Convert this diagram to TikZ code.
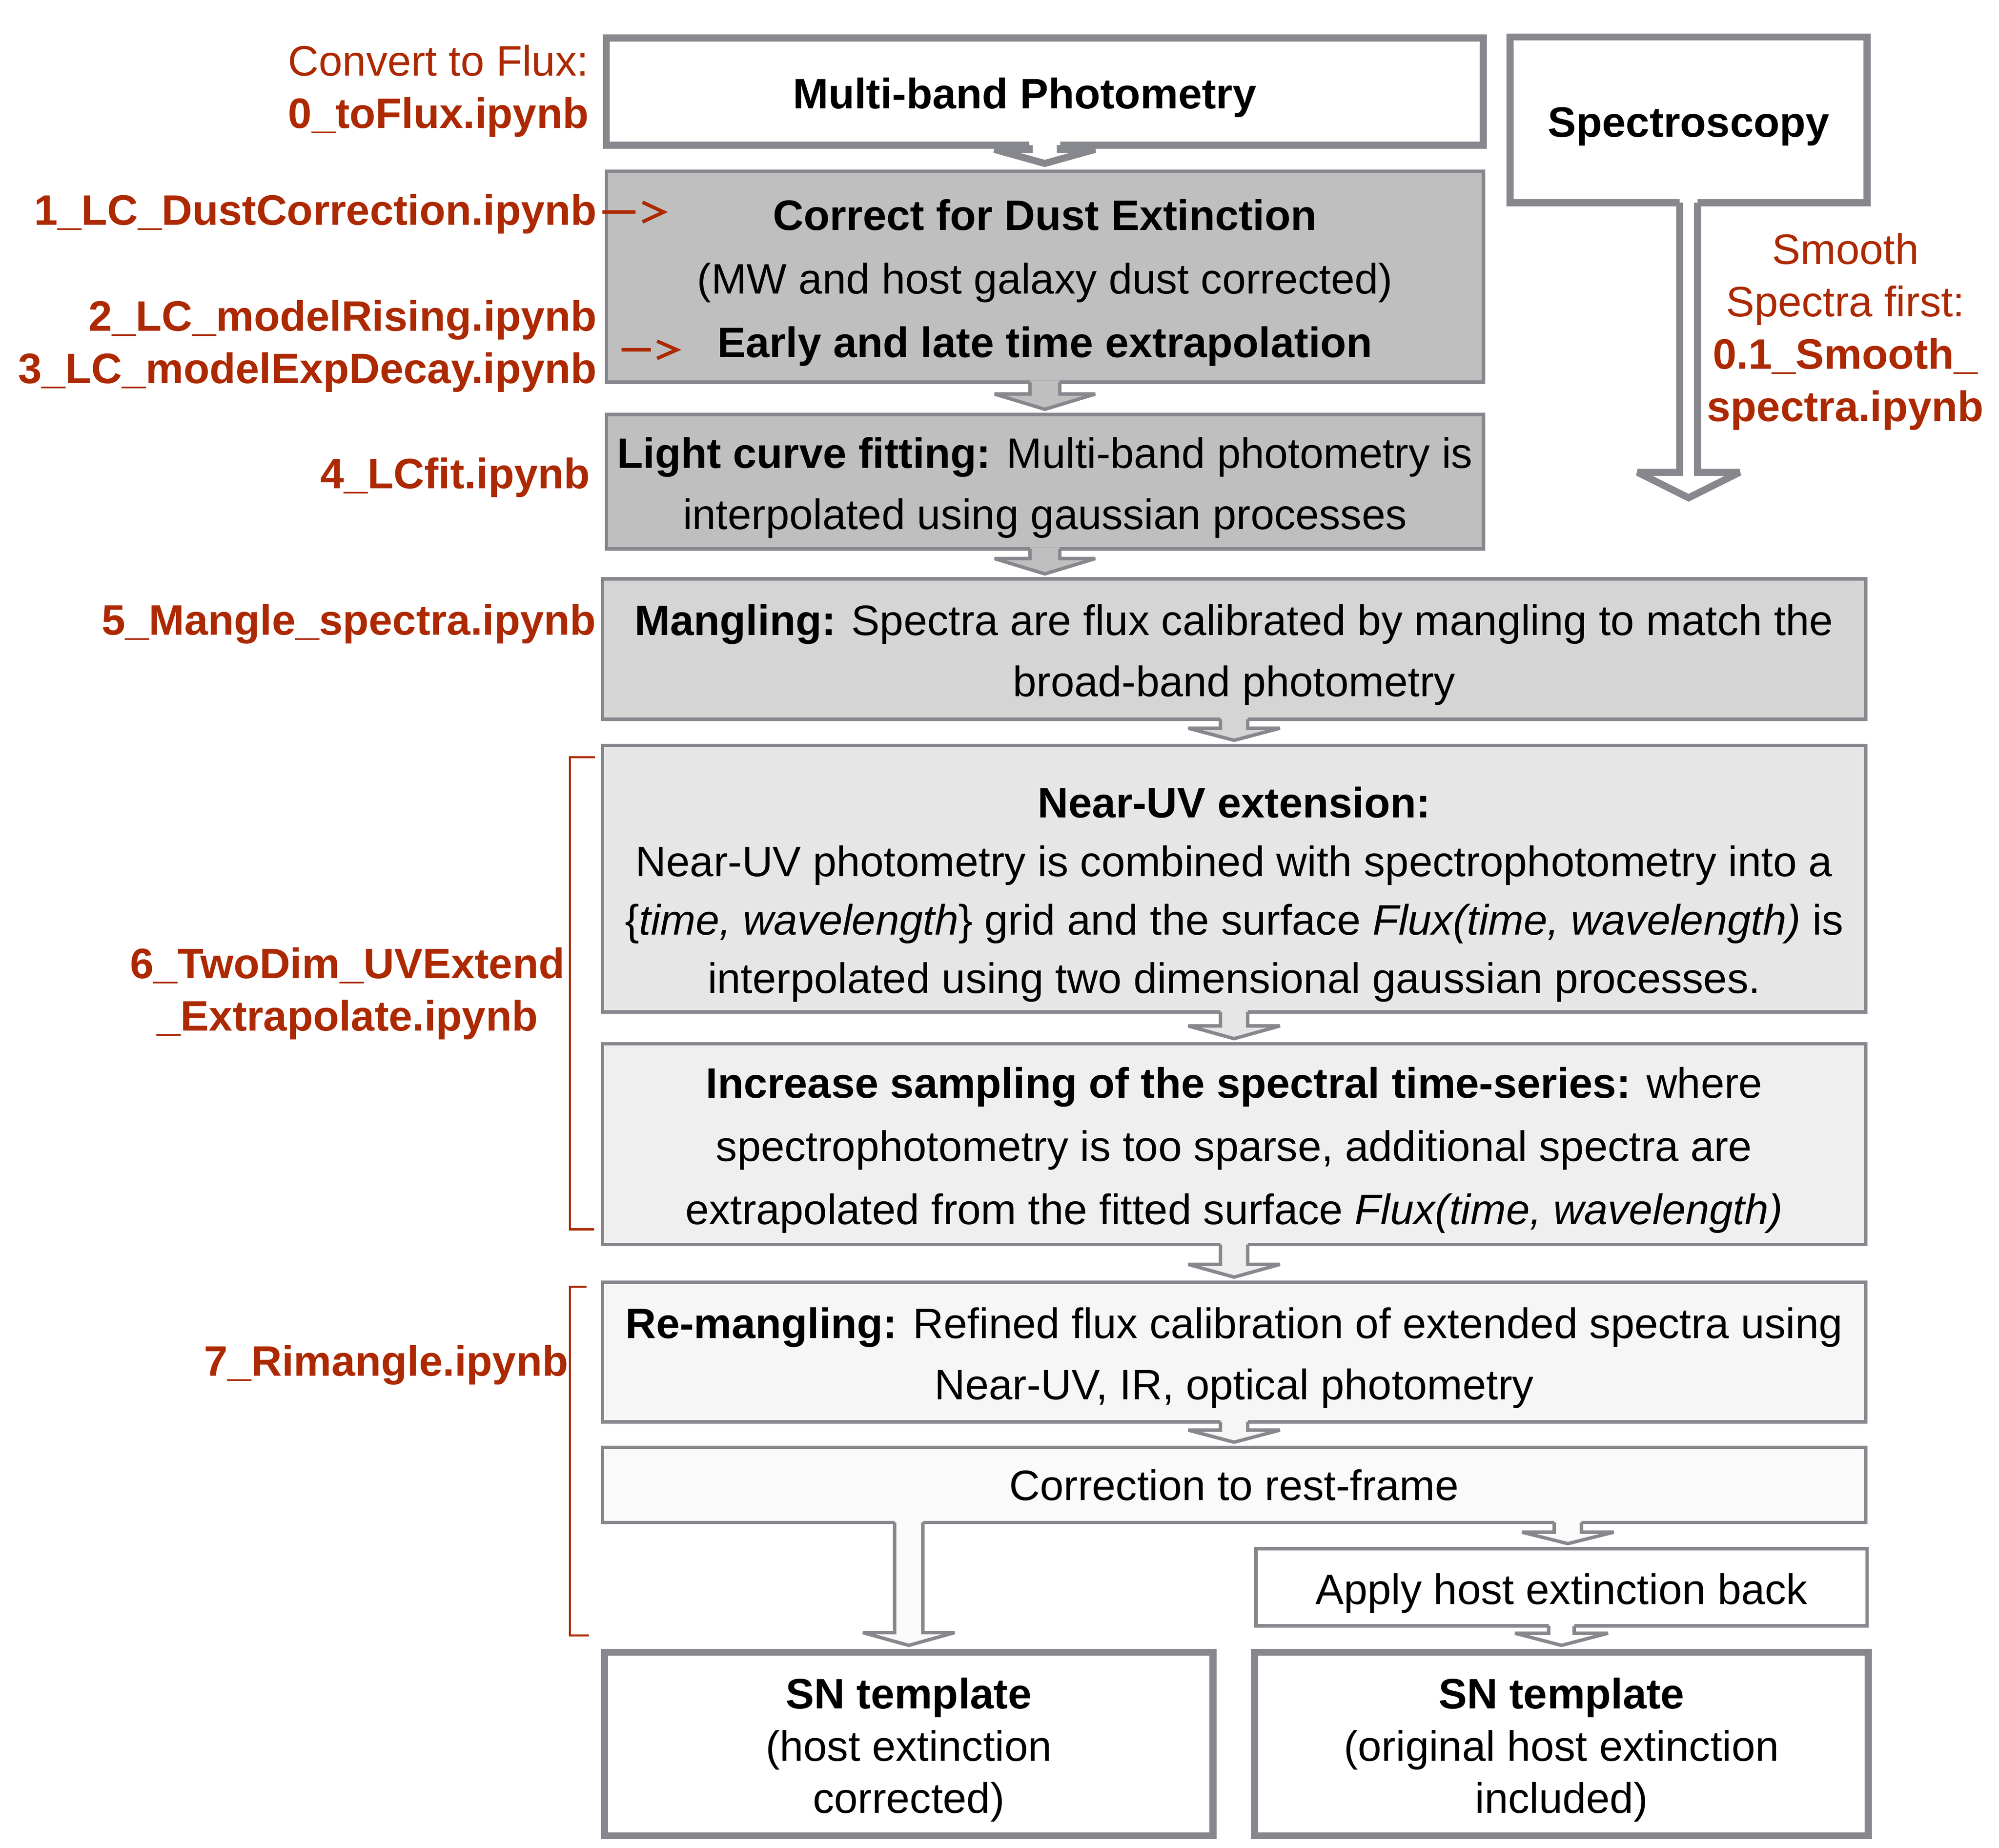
\documentclass[tikz,border=0pt]{standalone}
\usepackage{fontspec}
\setmainfont{Liberation Sans}
\usetikzlibrary{calc}

\definecolor{boxgray}{RGB}{135,136,141}
\definecolor{nbred}{RGB}{172,41,2}
\definecolor{lcgray}{RGB}{191,191,191}
\definecolor{mangray}{RGB}{213,213,213}
\definecolor{uvgray}{RGB}{230,230,230}
\definecolor{smpgray}{RGB}{239,239,239}
\definecolor{remgray}{RGB}{246,246,246}
\definecolor{restgray}{RGB}{250,250,250}

% strut that lowers the first line a little
\newcommand{\capstrut}{\rule{0pt}{0.67cm}}

% hollow block arrow: [fill]{line width}{half shaft}{half head}{head height}{from}{to}
\newcommand{\blockarrow}[7][white]{%
  \fill[#1] let \p1=#6, \p2=#7 in
    ({\x1-#3},{\y1+#2}) -- ({\x1-#3},{\y2+1.5pt+#5}) -- ({\x1-#4},{\y2+1.5pt+#5})
    -- (\x1,{\y2+1.5pt}) -- ({\x1+#4},{\y2+1.5pt+#5}) -- ({\x1+#3},{\y2+1.5pt+#5})
    -- ({\x1+#3},{\y1+#2}) -- cycle;
  \draw[arrowline, line width=#2] let \p1=#6, \p2=#7 in
    ({\x1-#3},{\y1+0.5*#2}) -- ({\x1-#3},{\y2+1.5pt+#5}) -- ({\x1-#4},{\y2+1.5pt+#5})
    -- (\x1,{\y2+1.5pt}) -- ({\x1+#4},{\y2+1.5pt+#5}) -- ({\x1+#3},{\y2+1.5pt+#5})
    -- ({\x1+#3},{\y1+0.5*#2});
}

\begin{document}
\begin{tikzpicture}[x=0.02cm, y=-0.02cm,
  every node/.style={font=\fontsize{19}{27.3}\selectfont},
  stage/.style={draw=boxgray, line width=0.054cm, align=center, inner sep=0pt},
  io/.style={draw=boxgray, line width=0.11cm, fill=white, align=center, inner sep=0pt},
  nb/.style={text=nbred, inner sep=0pt, font=\fontsize{19}{23.4}\selectfont\bfseries},
  notemark/.style={draw=nbred, line width=0.056cm},
  bracket/.style={draw=nbred, line width=0.032cm},
  arrowline/.style={draw=boxgray, line join=miter, miter limit=2}]
\useasboundingbox (0,0) rectangle (1568,1449);

% Inputs
\node[io, minimum width=13.76cm, minimum height=1.68cm] (phot) at (819.5,71.8) {\capstrut\textbf{Multi-band Photometry}\hspace*{0.63cm}};
\node[io, minimum width=5.6cm, minimum height=2.6cm] (spec) at (1324.5,94) {\capstrut\textbf{Spectroscopy}};

% Light curve steps
\node[stage, fill=lcgray, minimum width=13.76cm, minimum height=3.31cm, font=\fontsize{19}{28.4}\selectfont] (dust) at (819.6,217)
  {\capstrut\textbf{Correct for Dust Extinction}\\(MW and host galaxy dust corrected)\\\textbf{Early and late time extrapolation}};
\node[stage, fill=lcgray, minimum width=13.76cm, minimum height=2.11cm] (lcfit) at (819.6,377.7)
  {\capstrut\textbf{Light curve fitting:} Multi-band photometry is\\interpolated using gaussian processes};

% Spectral steps
\node[stage, fill=mangray, minimum width=19.82cm, minimum height=2.2cm] (mangle) at (968,509)
  {\capstrut\textbf{Mangling:} Spectra are flux calibrated by mangling to match the\\broad-band photometry};
\node[stage, fill=uvgray, minimum width=19.82cm, minimum height=4.18cm, font=\fontsize{19}{26.1}\selectfont] (uvext) at (968,689)
  {\rule{0pt}{0.98cm}\textbf{Near-UV extension:}\\Near-UV photometry is combined with spectrophotometry into a\\\{\textit{time, wavelength}\} grid and the surface \textit{Flux(time, wavelength)} is\\interpolated using two dimensional gaussian processes.};
\node[stage, fill=smpgray, minimum width=19.82cm, minimum height=3.15cm, font=\fontsize{19}{28.2}\selectfont] (resample) at (968,897.2)
  {\capstrut\textbf{Increase sampling of the spectral time-series:} where\\spectrophotometry is too sparse, additional spectra are\\extrapolated from the fitted surface \textit{Flux(time, wavelength)}};
\node[stage, fill=remgray, minimum width=19.82cm, minimum height=2.19cm] (remangle) at (968,1060.2)
  {\capstrut\textbf{Re-mangling:} Refined flux calibration of extended spectra using\\Near-UV, IR, optical photometry};
\node[stage, fill=restgray, minimum width=19.82cm, minimum height=1.18cm] (restframe) at (968,1164.4) {Correction to rest-frame};
\node[stage, fill=white, minimum width=9.59cm, minimum height=1.21cm] (hostback) at (1224.8,1244.7) {\capstrut Apply host extinction back};

% Outputs
\node[io, minimum width=9.55cm, minimum height=2.88cm, font=\fontsize{19}{23.3}\selectfont] (tplcorr) at (712.8,1367.6)
  {\capstrut\textbf{SN template}\\(host extinction\\corrected)};
\node[io, minimum width=9.63cm, minimum height=2.88cm, font=\fontsize{19}{23.3}\selectfont] (tplorig) at (1224.8,1367.6)
  {\capstrut\textbf{SN template}\\(original host extinction\\included)};

% Flow arrows
\coordinate (specend) at (1326,393);
\blockarrow{0.11cm}{0.244cm}{0.79cm}{0.22cm}{(phot.south)}{([yshift=1.2pt]dust.north)}
\blockarrow[lcgray]{0.054cm}{0.234cm}{0.79cm}{0.24cm}{(dust.south)}{(lcfit.north)}
\blockarrow[lcgray]{0.054cm}{0.234cm}{0.79cm}{0.24cm}{(lcfit.south)}{(lcfit.south |- mangle.north)}
\blockarrow[mangray]{0.054cm}{0.214cm}{0.72cm}{0.19cm}{(mangle.south)}{(uvext.north)}
\blockarrow[uvgray]{0.054cm}{0.214cm}{0.72cm}{0.2cm}{(uvext.south)}{(resample.north)}
\blockarrow[smpgray]{0.054cm}{0.214cm}{0.72cm}{0.2cm}{(resample.south)}{(remangle.north)}
\blockarrow[remgray]{0.054cm}{0.214cm}{0.72cm}{0.19cm}{(remangle.south)}{(restframe.north)}
\blockarrow[restgray]{0.054cm}{0.222cm}{0.72cm}{0.2cm}{(tplcorr.north |- restframe.south)}{(tplcorr.north)}
\blockarrow[restgray]{0.054cm}{0.214cm}{0.72cm}{0.18cm}{([xshift=0.1cm]hostback.north |- restframe.south)}{(hostback.north)}
\blockarrow{0.054cm}{0.2cm}{0.73cm}{0.19cm}{(hostback.south)}{(tplorig.north)}
\blockarrow{0.11cm}{0.14cm}{0.8cm}{0.4cm}{(spec.south)}{(specend)}

% Notebook labels
\node[nb, align=right, anchor=east] (toflux) at (462,71.4) {{\mdseries Convert to Flux:}\\0\_toFlux.ipynb};
\node[nb, anchor=base east] (nbdust) at (468.5,176.5) {1\_LC\_DustCorrection.ipynb};
\node[nb, align=right, anchor=east] (nbextrap) at (468.5,271.3) {2\_LC\_modelRising.ipynb\\3\_LC\_modelExpDecay.ipynb};
\node[nb, anchor=base east] (nblcfit) at (463,383) {4\_LCfit.ipynb};
\node[nb, anchor=base east] (nbmangle) at (467.8,497.9) {5\_Mangle\_spectra.ipynb};
\node[nb, align=center] (nbuv) at (272.5,779) {6\_TwoDim\_UVExtend\\\_Extrapolate.ipynb};
\node[nb, anchor=base east] (nbremangle) at (446,1079) {7\_Rimangle.ipynb};
\node[nb, align=center] (nbsmooth) at (1447.5,260.1) {{\mdseries Smooth}\\{\mdseries Spectra first:}\\0.1\_Smooth\_\\spectra.ipynb};

% Pointer marks
\coordinate (dustmark) at (472.5,166.3);
\coordinate (extrapmark) at (487.5,274.3);
\draw[notemark] (dustmark) -- ++(26,0) ++(5.5,-7.7) -- ++(16.5,7.7) -- ++(-16.5,7.7);
\draw[notemark] (extrapmark) -- ++(23,0) ++(4.9,-6.8) -- ++(15.5,6.8) -- ++(-15.5,6.8);

% Brackets
\draw[bracket] (466.5,593.7) -- (447,593.7) -- (447,964) -- (466,964);
\draw[bracket] (460,1009.1) -- (447,1009.1) -- (447,1282.4) -- (462,1282.4);
\end{tikzpicture}
\end{document}
